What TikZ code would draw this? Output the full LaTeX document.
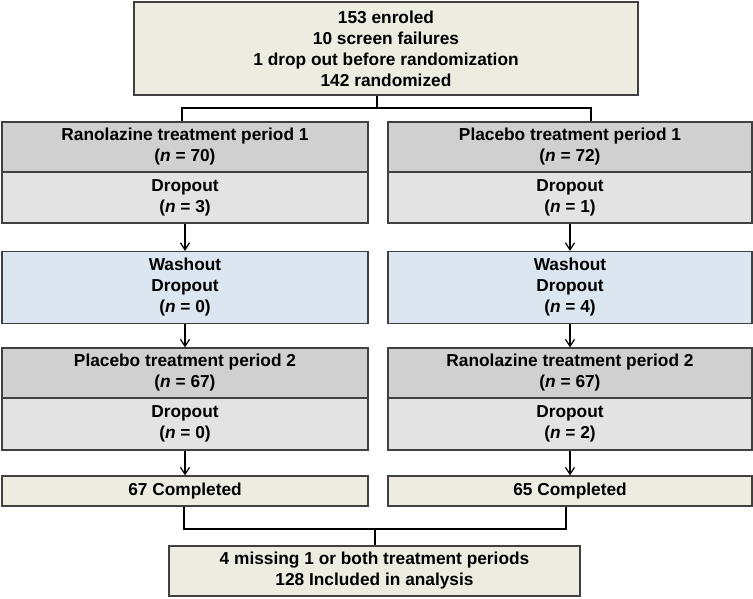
\documentclass[tikz,border=0pt]{standalone}
\usepackage{fontspec}
\setmainfont{Liberation Sans}
\usetikzlibrary{arrows.meta}
\definecolor{boxBeige}{HTML}{EEECE1}
\definecolor{boxGrey}{HTML}{D0D0D0}
\definecolor{boxLight}{HTML}{E3E3E3}
\definecolor{boxBlue}{HTML}{DCE6F1}
\definecolor{boxEdge}{HTML}{404040}

\begin{document}
\begin{tikzpicture}
[x=1pt,y=-1pt,
  boxDecorate/.style={shape=rectangle,draw=boxEdge,line width=1.2pt,align=center,inner sep=0pt,
    font=\bfseries\fontsize{17.3}{21}\selectfont},%
  lineDecorate/.style={-,line width=1.8pt,line join=miter},%
  arrowDecorate/.style={-{Straight Barb[length=7pt,width=9pt,line width=1.2pt]},line width=1.2pt}]
\useasboundingbox (0,0) rectangle (753,598);
%% top and bottom boxes
\node (enrol) at (386,48.5) [boxDecorate,fill=boxBeige,minimum width=504,minimum height=93]
  {153 enroled\\10 screen failures\\1 drop out before randomization\\142 randomized};
\node (analysis) at (374.5,571) [boxDecorate,fill=boxBeige,minimum width=411,minimum height=50]
  {4 missing 1 or both treatment periods\\128 Included in analysis};
%% the two arms
\foreach \side/\x/\w in {L/185/366, R/570/364}
{
  \node (\side wash) at (\x,287.5) [boxDecorate,fill=boxBlue,minimum width=\w,minimum height=72] {};
  \node (\side done) at (\x,491) [boxDecorate,fill=boxBeige,minimum width=\w,minimum height=30] {};
}
\node (Ltreat1) at (185,147) [boxDecorate,fill=boxGrey,minimum width=366,minimum height=50]
  {Ranolazine treatment period 1\\(\textit{n} = 70)};
\node (Rtreat1) at (570,147) [boxDecorate,fill=boxGrey,minimum width=364,minimum height=50]
  {Placebo treatment period 1\\(\textit{n} = 72)};
\node (Ldrop1) at (185,197.5) [boxDecorate,fill=boxLight,minimum width=366,minimum height=51]
  {Dropout\\(\textit{n} = 3)};
\node (Rdrop1) at (570,197.5) [boxDecorate,fill=boxLight,minimum width=364,minimum height=51]
  {Dropout\\(\textit{n} = 1)};
\node at (Lwash) [boxDecorate,draw=none] {Washout\\Dropout\\(\textit{n} = 0)};
\node at (Rwash) [boxDecorate,draw=none] {Washout\\Dropout\\(\textit{n} = 4)};
\node (Ltreat2) at (185,373) [boxDecorate,fill=boxGrey,minimum width=366,minimum height=50]
  {Placebo treatment period 2\\(\textit{n} = 67)};
\node (Rtreat2) at (570,373) [boxDecorate,fill=boxGrey,minimum width=364,minimum height=50]
  {Ranolazine treatment period 2\\(\textit{n} = 67)};
\node (Ldrop2) at (185,424) [boxDecorate,fill=boxLight,minimum width=366,minimum height=52]
  {Dropout\\(\textit{n} = 0)};
\node (Rdrop2) at (570,424) [boxDecorate,fill=boxLight,minimum width=364,minimum height=52]
  {Dropout\\(\textit{n} = 2)};
\node at (Ldone) [boxDecorate,draw=none] {67 Completed};
\node at (Rdone) [boxDecorate,draw=none] {65 Completed};
%% split and join points
\coordinate (split) at (377,108);
\coordinate (splitL) at (182,108);
\coordinate (splitR) at (591,108);
\coordinate (join) at (375,529);
\coordinate (joinL) at (184,529);
\coordinate (joinR) at (566,529);
%% connectors
\draw[lineDecorate] (enrol.south -| split) -- (split);
\draw[lineDecorate] (Ltreat1.north -| splitL) -- (splitL) -- (splitR) -- (Rtreat1.north -| splitR);
\draw[lineDecorate] (Ldone.south -| joinL) -- (joinL) -- (joinR) -- (Rdone.south -| joinR);
\draw[lineDecorate] (join) -- (analysis.north -| join);
\foreach \side in {L, R}
{
  \draw[arrowDecorate] (\side drop1) -- (\side wash);
  \draw[arrowDecorate] (\side wash) -- (\side treat2);
  \draw[arrowDecorate] (\side drop2) -- (\side done);
}
\end{tikzpicture}
\end{document}
